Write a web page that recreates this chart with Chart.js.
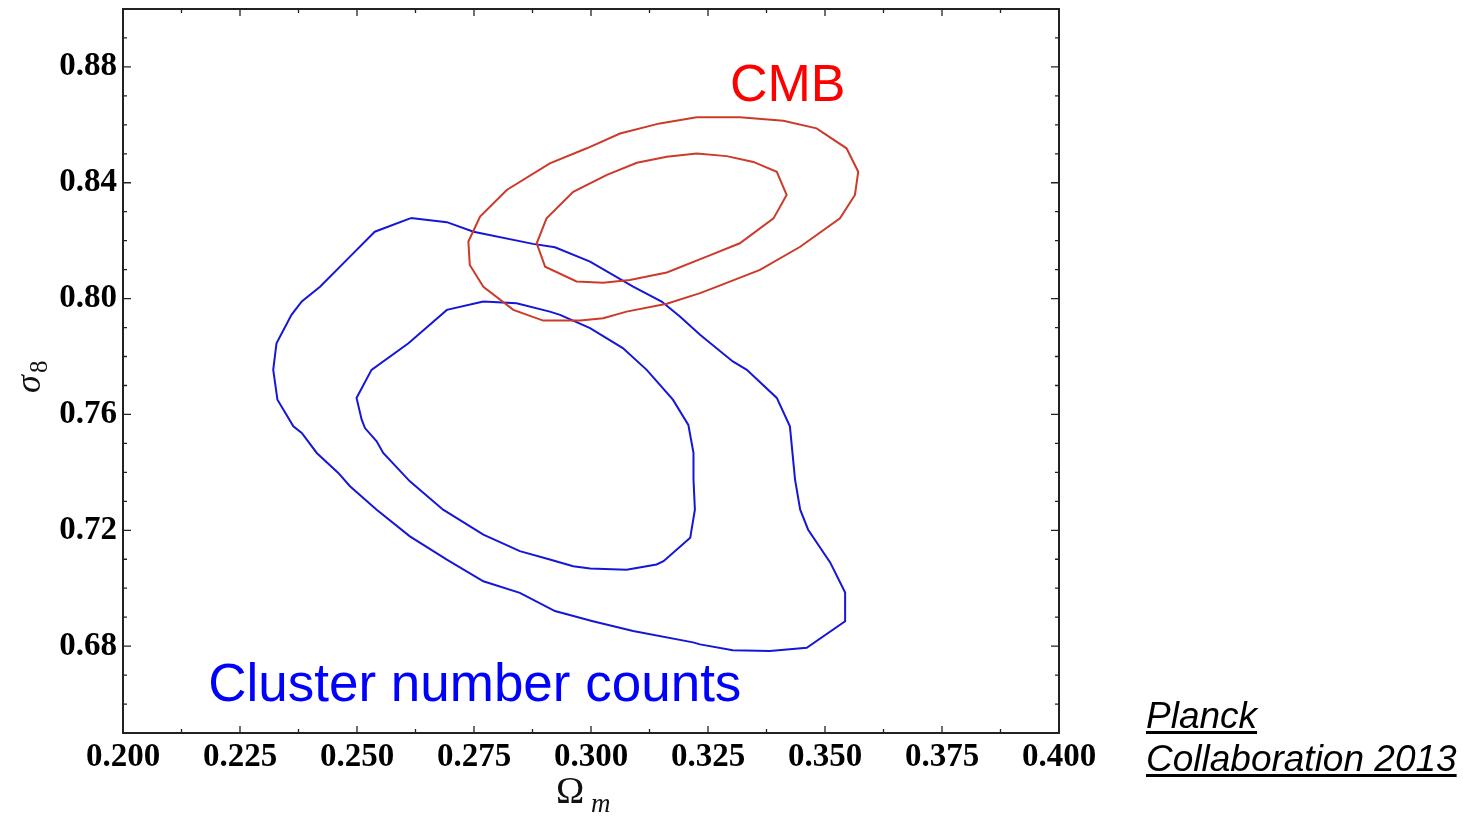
<!DOCTYPE html>
<html>
<head>
<meta charset="utf-8">
<script src="https://cdn.jsdelivr.net/npm/chart.js@4.4.0/dist/chart.umd.min.js"></script>
<style>
  html, body { margin: 0; padding: 0; background: #fff; }
  canvas { display: block; }
</style>
</head>
<body>
<canvas id="chart" width="1463" height="816"></canvas>
<script>
// tick labels
const xTicks = [0.200, 0.225, 0.250, 0.275, 0.300, 0.325, 0.350, 0.375, 0.400];
const yTicks = [0.68, 0.72, 0.76, 0.80, 0.84, 0.88];

// contour outlines, [Omega_m, sigma_8]
const cmbOuter = [
  [0.3226, 0.8626], [0.3147, 0.8605], [0.3062, 0.8570], [0.2991, 0.8519], [0.2912, 0.8467],
  [0.2820, 0.8375], [0.2763, 0.8283], [0.2738, 0.8197], [0.2741, 0.8116], [0.2770, 0.8041],
  [0.2834, 0.7961], [0.2898, 0.7924], [0.2977, 0.7924], [0.3026, 0.7932], [0.3076, 0.7955],
  [0.3162, 0.7982], [0.3233, 0.8019], [0.3261, 0.8036], [0.3361, 0.8099], [0.3447, 0.8179],
  [0.3532, 0.8277], [0.3564, 0.8358], [0.3571, 0.8438], [0.3546, 0.8519], [0.3482, 0.8588],
  [0.3411, 0.8614], [0.3318, 0.8626], [0.3226, 0.8626]
];
const cmbInner = [
  [0.3226, 0.8501], [0.3162, 0.8490], [0.3098, 0.8469], [0.3034, 0.8427], [0.2962, 0.8369],
  [0.2905, 0.8277], [0.2884, 0.8191], [0.2902, 0.8110], [0.2969, 0.8059], [0.3026, 0.8055],
  [0.3083, 0.8064], [0.3162, 0.8090], [0.3247, 0.8145], [0.3318, 0.8191], [0.3390, 0.8277],
  [0.3418, 0.8358], [0.3397, 0.8438], [0.3347, 0.8472], [0.3290, 0.8492], [0.3226, 0.8501]
];
const clusterOuter = [
  [0.2615, 0.8278], [0.2692, 0.8264], [0.2749, 0.8231], [0.2876, 0.8189], [0.2923, 0.8177],
  [0.2998, 0.8128], [0.3090, 0.8041], [0.3151, 0.7990], [0.3190, 0.7938], [0.3233, 0.7875],
  [0.3303, 0.7783], [0.3333, 0.7754], [0.3397, 0.7657], [0.3425, 0.7559], [0.3436, 0.7375],
  [0.3447, 0.7271], [0.3464, 0.7202], [0.3511, 0.7089], [0.3543, 0.6985], [0.3543, 0.6886],
  [0.3461, 0.6794], [0.3382, 0.6783], [0.3303, 0.6786], [0.3233, 0.6806], [0.3218, 0.6813],
  [0.3090, 0.6852], [0.3004, 0.6886], [0.2923, 0.6921], [0.2848, 0.6984], [0.2770, 0.7024],
  [0.2692, 0.7099], [0.2613, 0.7179], [0.2542, 0.7271], [0.2485, 0.7352], [0.2460, 0.7398],
  [0.2414, 0.7467], [0.2382, 0.7536], [0.2364, 0.7559], [0.2330, 0.7651], [0.2321, 0.7754],
  [0.2328, 0.7846], [0.2360, 0.7944], [0.2382, 0.7990], [0.2421, 0.8041], [0.2485, 0.8145],
  [0.2538, 0.8231], [0.2615, 0.8278]
];
const clusterInner = [
  [0.2770, 0.7990], [0.2841, 0.7984], [0.2912, 0.7955], [0.2934, 0.7944], [0.2998, 0.7898],
  [0.3068, 0.7829], [0.3119, 0.7754], [0.3175, 0.7651], [0.3208, 0.7564], [0.3219, 0.7467],
  [0.3219, 0.7375], [0.3222, 0.7271], [0.3212, 0.7174], [0.3155, 0.7093], [0.3140, 0.7082],
  [0.3076, 0.7064], [0.2998, 0.7068], [0.2962, 0.7076], [0.2912, 0.7099], [0.2848, 0.7128],
  [0.2770, 0.7185], [0.2684, 0.7271], [0.2613, 0.7369], [0.2556, 0.7467], [0.2542, 0.7507],
  [0.2517, 0.7553], [0.2510, 0.7582], [0.2499, 0.7657], [0.2531, 0.7754], [0.2610, 0.7846],
  [0.2692, 0.7961], [0.2770, 0.7990]
];

const RED = 'rgb(204, 58, 42)';
const BLUE = 'rgb(22, 22, 215)';
const tickFont = { family: '"Liberation Serif", serif', size: 33, weight: 'bold' };

function toPts(arr) { return arr.map(p => ({ x: p[0], y: p[1] })); }
function contour(arr, color) {
  return {
    data: toPts(arr), showLine: true, borderColor: color, borderWidth: 2,
    pointRadius: 0, fill: false, tension: 0
  };
}

// frame, inward ticks, axis titles and text notes
const decor = {
  id: 'decor',
  afterDraw(chart) {
    const ctx = chart.ctx;
    const a = chart.chartArea;
    const xs = chart.scales.x, ys = chart.scales.y;
    ctx.save();
    ctx.strokeStyle = '#222';
    ctx.lineWidth = 2;
    ctx.strokeRect(a.left, a.top, a.right - a.left, a.bottom - a.top);

    ctx.lineWidth = 1.3;
    ctx.beginPath();
    for (let i = 0; i <= 16; i++) {
      const px = xs.getPixelForValue(0.2 + i * 0.0125);
      const len = i % 2 === 0 ? 7 : 4;
      ctx.moveTo(px, a.bottom); ctx.lineTo(px, a.bottom - len);
      ctx.moveTo(px, a.top); ctx.lineTo(px, a.top + len);
    }
    for (let i = 0; i <= 25; i++) {
      const v = 0.65 + i * 0.01;
      const py = ys.getPixelForValue(v);
      const major = Math.abs((Math.round(v * 100) - 68) % 4) === 0;
      const len = major ? 8 : 4;
      ctx.moveTo(a.left, py); ctx.lineTo(a.left + len, py);
      ctx.moveTo(a.right, py); ctx.lineTo(a.right - len, py);
    }
    ctx.stroke();

    // x title: Omega_m
    ctx.fillStyle = '#111';
    ctx.textBaseline = 'alphabetic';
    ctx.textAlign = 'left';
    ctx.font = '38px "Liberation Serif", serif';
    ctx.fillText('\u03A9', 556, 803);
    ctx.font = 'italic 27px "Liberation Serif", serif';
    ctx.fillText('m', 591, 812);

    // y title: sigma_8
    ctx.save();
    ctx.translate(40, 393);
    ctx.rotate(-Math.PI / 2);
    ctx.font = 'italic 36px "Liberation Serif", serif';
    ctx.fillText('\u03C3', 0, 0);
    ctx.font = '25px "Liberation Serif", serif';
    ctx.fillText('8', 20, 7);
    ctx.restore();

    // notes
    ctx.font = '52px "Liberation Sans", Arial, sans-serif';
    ctx.fillStyle = '#ff0000';
    ctx.fillText('CMB', xs.getPixelForValue(0.3297), ys.getPixelForValue(0.8682));
    ctx.font = '53px "Liberation Sans", Arial, sans-serif';
    ctx.fillStyle = '#0000ff';
    ctx.fillText('Cluster number counts', xs.getPixelForValue(0.2182), ys.getPixelForValue(0.6609));

    ctx.fillStyle = '#000';
    ctx.font = 'italic 37px "Liberation Sans", Arial, sans-serif';
    const lx = a.right + 87;
    const lines = [['Planck', 728], ['Collaboration 2013', 771]];
    lines.forEach(([t, by]) => {
      ctx.fillText(t, lx, by);
      const w = ctx.measureText(t).width;
      ctx.fillRect(lx, by + 3, w, 3);
    });
    ctx.restore();
  }
};

new Chart(document.getElementById('chart'), {
  type: 'scatter',
  data: {
    datasets: [
      contour(cmbOuter, RED),
      contour(cmbInner, RED),
      contour(clusterOuter, BLUE),
      contour(clusterInner, BLUE)
    ]
  },
  options: {
    responsive: false,
    animation: false,
    layout: { padding: { left: 0, right: 404, top: 9, bottom: 0 } },
    plugins: { legend: { display: false }, tooltip: { enabled: false } },
    scales: {
      x: {
        type: 'linear', min: 0.2, max: 0.4,
        grid: { display: false, drawTicks: false },
        border: { display: false },
        afterBuildTicks: s => { s.ticks = xTicks.map(v => ({ value: v })); },
        afterFit: s => { s.height = 83; s.paddingLeft = 0; s.paddingRight = 0; },
        ticks: { font: tickFont, color: '#000', padding: 5, maxRotation: 0,
                 callback: v => v.toFixed(3) }
      },
      y: {
        type: 'linear', min: 0.65, max: 0.90,
        grid: { display: false, drawTicks: false },
        border: { display: false },
        afterBuildTicks: s => { s.ticks = yTicks.map(v => ({ value: v })); },
        afterFit: s => { s.width = 123; s.paddingTop = 0; s.paddingBottom = 0; },
        ticks: { font: tickFont, color: '#000', padding: 6,
                 callback: v => v.toFixed(2) }
      }
    }
  },
  plugins: [decor]
});
</script>
</body>
</html>
